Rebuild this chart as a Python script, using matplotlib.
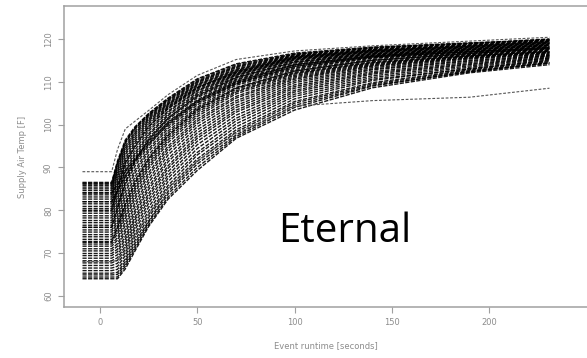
import matplotlib
matplotlib.use("Agg")
import matplotlib.pyplot as plt

# ---------------- data ----------------
event_time = [-9, 6, 9, 13, 18, 25, 35, 50, 70, 100, 140, 190, 231]

# start temperature of each event (flat part, t = -9 .. 6)
start_temp = [64.0, 64.4, 64.9, 65.3, 65.9, 66.5, 67.1, 67.7, 68.2, 68.8,
              69.4, 69.9, 70.5, 71.0, 71.6, 72.1, 72.7, 73.2, 73.8, 74.3,
              74.9, 75.4, 76.0, 76.5, 77.1, 77.6, 78.2, 78.7, 79.3, 79.8,
              80.4, 80.9, 81.5, 82.0, 82.6, 83.1, 83.6, 84.1, 84.6, 85.0,
              85.4, 85.8, 86.1, 86.5, 86.3, 84.0, 80.0, 76.0, 72.5, 82.0]

# temperatures at t = 9, 13, 18, 25, 35, 50, 70, 100, 140, 190, 231
rise_temp = [
    [64.0, 66.3, 70.5, 76.2, 82.6, 89.3, 96.8, 103.4, 108.6, 112.1, 114.0],
    [64.4, 66.9, 71.0, 76.6, 83.1, 90.0, 97.2, 104.0, 109.0, 112.4, 114.3],
    [65.0, 67.4, 71.6, 77.2, 83.8, 90.8, 97.6, 104.5, 109.2, 112.3, 114.5],
    [65.5, 68.0, 72.3, 77.5, 84.4, 91.4, 98.3, 105.0, 109.5, 112.6, 114.4],
    [66.2, 68.6, 73.0, 78.3, 85.2, 92.0, 98.8, 105.4, 109.8, 112.8, 114.7],
    [66.9, 69.4, 73.8, 79.0, 85.8, 92.9, 99.5, 106.0, 110.3, 113.1, 114.9],
    [67.6, 70.1, 74.6, 79.8, 86.7, 93.5, 100.2, 106.6, 110.6, 113.0, 115.1],
    [68.3, 70.9, 75.5, 80.7, 87.5, 94.4, 100.9, 107.1, 111.0, 113.4, 115.3],
    [68.9, 71.6, 76.2, 81.6, 88.2, 95.3, 101.5, 107.6, 111.4, 113.7, 115.5],
    [69.6, 72.4, 77.0, 82.4, 89.0, 96.1, 102.2, 108.0, 111.8, 114.0, 115.6],
    [70.3, 73.2, 77.8, 83.2, 89.8, 96.8, 102.9, 108.5, 112.1, 114.2, 115.8],
    [70.9, 73.9, 78.4, 83.9, 90.4, 97.4, 103.4, 108.9, 112.4, 114.5, 116.0],
    [71.6, 74.8, 79.3, 84.8, 91.3, 98.1, 104.0, 109.3, 112.8, 114.8, 116.1],
    [72.2, 75.5, 80.0, 85.5, 92.0, 98.8, 104.5, 109.8, 113.0, 115.0, 116.2],
    [73.0, 76.4, 80.9, 86.4, 92.9, 99.5, 105.1, 110.2, 113.3, 115.3, 116.4],
    [73.6, 77.2, 81.7, 87.2, 93.7, 100.2, 105.6, 110.6, 113.6, 115.5, 116.5],
    [74.4, 78.1, 82.6, 88.1, 94.4, 100.8, 106.2, 110.9, 113.8, 115.6, 116.7],
    [75.0, 78.8, 83.3, 88.8, 95.0, 101.3, 106.6, 111.2, 114.0, 115.8, 116.8],
    [75.6, 79.6, 84.1, 89.7, 95.8, 101.9, 107.2, 111.5, 114.2, 115.9, 116.9],
    [76.2, 80.2, 84.8, 90.3, 96.4, 102.4, 107.6, 111.8, 114.4, 116.0, 117.0],
    [76.9, 80.9, 85.4, 90.9, 96.9, 102.9, 107.9, 112.0, 114.5, 116.1, 117.1],
    [77.5, 81.6, 86.1, 91.5, 97.4, 103.3, 108.3, 112.2, 114.7, 116.1, 117.1],
    [78.2, 82.5, 87.0, 92.2, 98.0, 103.8, 108.7, 112.5, 115.0, 116.3, 117.3],
    [78.9, 83.3, 87.8, 92.9, 98.5, 104.1, 109.2, 112.8, 115.2, 116.4, 117.4],
    [79.6, 84.2, 88.7, 93.7, 99.1, 104.6, 109.5, 113.1, 115.5, 116.6, 117.6],
    [80.3, 85.0, 89.4, 94.3, 99.6, 105.0, 109.8, 113.3, 115.6, 116.7, 117.7],
    [81.0, 85.9, 90.3, 95.0, 100.2, 105.5, 110.1, 113.6, 115.8, 116.9, 117.8],
    [81.6, 86.5, 91.0, 95.5, 100.7, 105.8, 110.4, 113.9, 115.9, 117.0, 118.0],
    [82.4, 87.4, 91.8, 96.3, 101.2, 106.3, 110.6, 114.1, 116.1, 117.1, 118.1],
    [83.0, 88.0, 92.3, 96.9, 101.6, 106.6, 110.9, 114.4, 116.2, 117.2, 118.2],
    [83.8, 88.9, 92.9, 97.5, 102.1, 107.1, 111.2, 114.7, 116.3, 117.4, 118.4],
    [84.4, 89.4, 93.4, 97.9, 102.4, 107.4, 111.5, 115.0, 116.5, 117.5, 118.5],
    [85.1, 90.1, 94.1, 98.5, 102.9, 107.8, 111.6, 115.1, 116.6, 117.6, 118.6],
    [85.8, 90.8, 94.8, 99.0, 103.2, 108.0, 111.8, 115.3, 116.8, 117.8, 118.8],
    [86.5, 91.5, 95.6, 99.6, 103.7, 108.3, 112.0, 115.4, 116.9, 117.9, 118.9],
    [87.1, 92.1, 96.1, 100.1, 104.1, 108.6, 112.1, 115.5, 117.0, 118.0, 119.0],
    [87.8, 92.9, 96.6, 100.5, 104.3, 108.8, 112.3, 115.7, 117.1, 118.1, 119.1],
    [88.4, 93.4, 97.1, 100.9, 104.6, 109.1, 112.6, 115.8, 117.3, 118.2, 119.2],
    [89.0, 94.0, 97.6, 101.2, 104.8, 109.3, 112.8, 115.9, 117.4, 118.4, 119.4],
    [89.5, 94.5, 98.0, 101.5, 105.0, 109.5, 113.0, 116.0, 117.5, 118.5, 119.5],
    [90.0, 95.0, 98.4, 101.8, 105.3, 109.8, 113.3, 116.1, 117.6, 118.6, 119.6],
    [90.6, 95.6, 98.9, 102.1, 105.6, 110.0, 113.5, 116.3, 117.8, 118.8, 119.8],
    [91.0, 95.9, 99.1, 102.2, 105.8, 110.2, 113.7, 116.4, 117.9, 118.9, 119.9],
    [91.5, 96.4, 99.5, 102.5, 106.0, 110.5, 114.0, 116.5, 118.0, 119.0, 120.0],
    [91.2, 96.0, 99.3, 102.6, 106.2, 110.7, 114.2, 116.7, 118.1, 119.1, 119.7],
    [86.0, 89.0, 92.0, 96.0, 100.5, 105.5, 110.0, 114.0, 116.0, 117.5, 118.5],
    [85.0, 91.0, 95.0, 99.5, 103.8, 108.6, 112.4, 115.6, 117.2, 118.3, 119.3],
    [80.5, 86.5, 91.5, 96.5, 101.5, 106.8, 111.0, 114.6, 116.5, 117.6, 118.6],
    [76.0, 81.5, 86.5, 92.0, 97.5, 103.5, 108.5, 112.5, 115.0, 116.6, 117.8],
    [84.5, 88.0, 91.5, 95.5, 100.0, 105.2, 109.6, 113.6, 115.8, 117.0, 118.0],
]

upper_outlier = [89.0, 89.0, 94.2, 99.0, 100.8, 103.3, 107.0, 111.5, 115.2,
                 117.2, 118.4, 119.5, 120.4]
lower_outlier = [68.0, 68.0, 68.3, 70.5, 74.2, 79.0, 85.0, 91.5, 98.0,
                 104.3, 105.6, 106.4, 108.5]

x_ticks = [0, 50, 100, 150, 200]
y_ticks = [60, 70, 80, 90, 100, 110, 120]
x_label = "Event runtime [seconds]"
y_label = "Supply Air Temp [F]"
overlay_text = "Eternal"

# ---------------- figure ----------------
W, H = 587, 358
fig = plt.figure(figsize=(W / 100, H / 100), dpi=100)
ax = fig.add_axes([64 / W, (H - 307) / H, (W - 64) / W, (307 - 6) / H])

line_kw = dict(color="black", lw=1.0, linestyle=(0, (3, 1)), alpha=0.9)
for s, r in zip(start_temp, rise_temp):
    ax.plot(event_time, [s, s] + r, **line_kw)
ax.plot(event_time, upper_outlier, color="#555555", lw=0.8,
        linestyle=(0, (2.5, 1.5)))
ax.plot(event_time, lower_outlier, color="#555555", lw=0.8,
        linestyle=(0, (2.5, 1.5)))

ax.set_xlim(-18.5, 250.3)
ax.set_ylim(57.4, 127.7)

grey = "#a0a0a0"
for side in ["left", "bottom", "top"]:
    ax.spines[side].set_color(grey)
    ax.spines[side].set_linewidth(1.1)
ax.spines["right"].set_visible(False)

ax.set_xticks(x_ticks)
ax.set_yticks(y_ticks)
ax.set_xticklabels([str(v) for v in x_ticks])
ax.set_yticklabels([str(v) for v in y_ticks], rotation=90, va="center")
ax.tick_params(axis="both", direction="out", length=4, width=0.8,
               color=grey, labelcolor="#8c8c8c", labelsize=6, pad=4)

ax.set_xlabel(x_label, fontsize=6, color="#8c8c8c", labelpad=10)
ax.set_ylabel(y_label, fontsize=6, color="#8c8c8c", labelpad=12)

fig.text(345 / W, (H - 242) / H, overlay_text, fontsize=29,
         family=["Open Sans", "DejaVu Sans"], color="black",
         ha="center", va="baseline")

fig.savefig("out.png", dpi=100)
